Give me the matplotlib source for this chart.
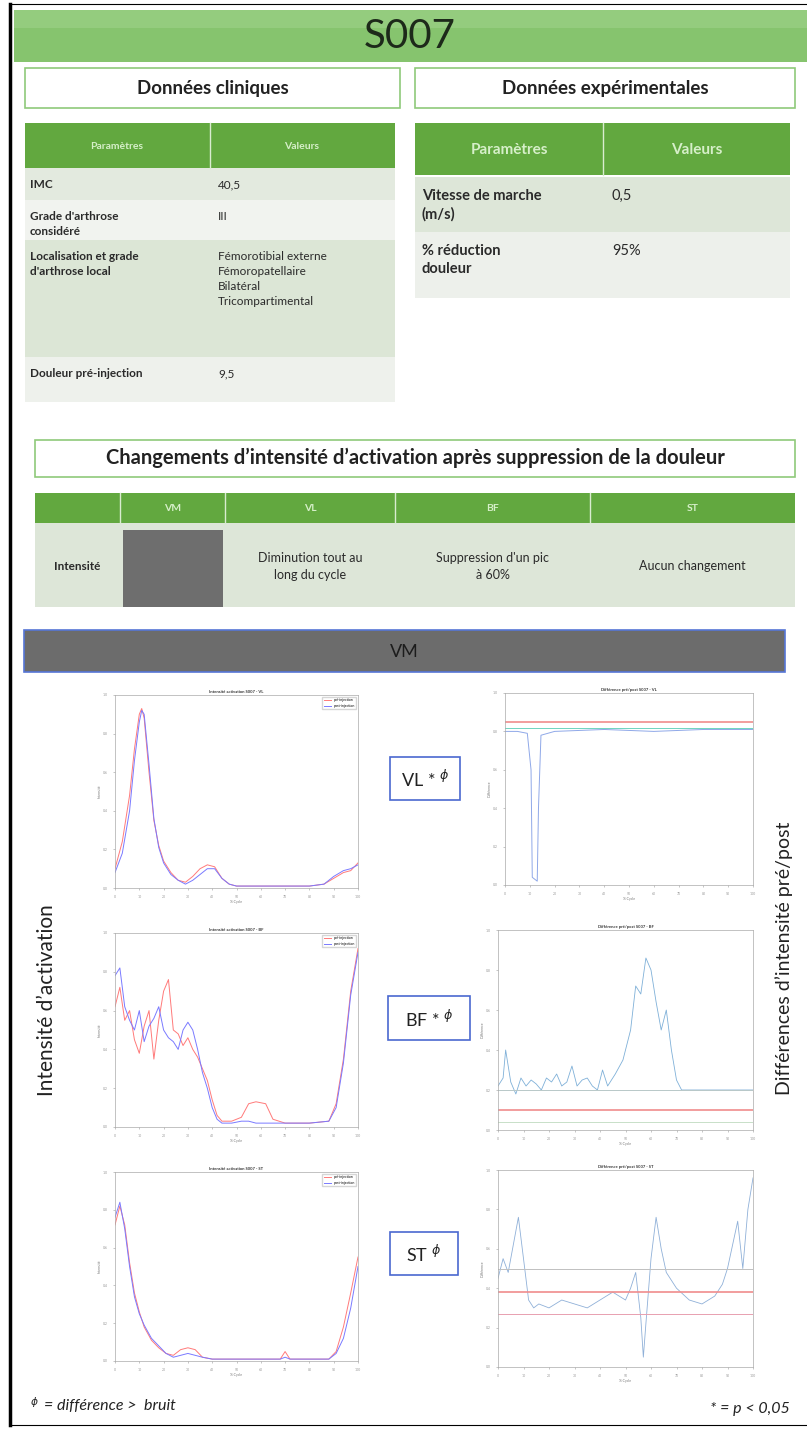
import matplotlib
matplotlib.use("Agg")
import matplotlib.pyplot as plt
from matplotlib.patches import Rectangle

plt.rcParams["font.family"] = ["Lato", "DejaVu Sans"]

W, H = 807, 1429

# ---- text content ----
title = "S007"
clin_params = ["IMC", "Grade d'arthrose\nconsidéré", "Localisation et grade\nd'arthrose local", "Douleur pré-injection"]
clin_values = ["40,5", "III", "Fémorotibial externe\nFémoropatellaire\nBilatéral\nTricompartimental", "9,5"]
exp_params = ["Vitesse de marche\n(m/s)", "% réduction\ndouleur"]
exp_values = ["0,5", "95%"]
muscles = ["VM", "VL", "BF", "ST"]
changes = ["", "Diminution tout au\nlong du cycle", "Suppression d'un pic\nà 60%", "Aucun changement"]
row_labels = ["VL * ", "BF * ", "ST "]

# ---- curves (x = % cycle) ----
vl_x = [0, 3, 6, 8, 10, 11, 12, 14, 16, 18, 20, 23, 26, 29, 32, 35, 38, 41, 44, 47, 50, 60, 70, 80, 86, 90, 94, 97, 100]
vl_pre = [0.10, 0.24, 0.48, 0.72, 0.90, 0.93, 0.88, 0.60, 0.35, 0.22, 0.14, 0.08, 0.04, 0.03, 0.06, 0.10, 0.12, 0.11, 0.05, 0.02, 0.01, 0.01, 0.01, 0.01, 0.02, 0.05, 0.08, 0.09, 0.13]
vl_post = [0.08, 0.18, 0.40, 0.66, 0.86, 0.92, 0.90, 0.64, 0.36, 0.21, 0.13, 0.07, 0.04, 0.02, 0.04, 0.07, 0.10, 0.10, 0.05, 0.02, 0.01, 0.01, 0.01, 0.01, 0.02, 0.06, 0.09, 0.10, 0.12]

bf_x = [0, 2, 4, 6, 8, 10, 12, 14, 16, 18, 20, 22, 24, 26, 28, 30, 32, 34, 36, 38, 40, 42, 44, 48, 52, 55, 58, 62, 65, 70, 80, 88, 91, 94, 97, 100]
bf_pre = [0.62, 0.72, 0.55, 0.60, 0.45, 0.38, 0.52, 0.60, 0.35, 0.55, 0.70, 0.76, 0.50, 0.48, 0.42, 0.46, 0.40, 0.36, 0.30, 0.24, 0.14, 0.06, 0.03, 0.03, 0.05, 0.12, 0.13, 0.12, 0.04, 0.02, 0.02, 0.03, 0.12, 0.35, 0.70, 0.92]
bf_post = [0.78, 0.82, 0.62, 0.55, 0.50, 0.60, 0.44, 0.52, 0.56, 0.62, 0.50, 0.46, 0.44, 0.40, 0.50, 0.54, 0.50, 0.40, 0.28, 0.20, 0.10, 0.04, 0.02, 0.02, 0.03, 0.03, 0.02, 0.02, 0.02, 0.02, 0.02, 0.03, 0.10, 0.33, 0.68, 0.90]

st_x = [0, 2, 4, 6, 8, 10, 12, 15, 18, 21, 24, 27, 30, 33, 36, 40, 50, 60, 68, 70, 72, 80, 88, 91, 94, 97, 100]
st_pre = [0.72, 0.82, 0.72, 0.52, 0.36, 0.26, 0.18, 0.11, 0.07, 0.04, 0.03, 0.06, 0.07, 0.06, 0.02, 0.01, 0.01, 0.01, 0.01, 0.05, 0.01, 0.01, 0.01, 0.05, 0.18, 0.36, 0.55]
st_post = [0.76, 0.84, 0.70, 0.50, 0.34, 0.25, 0.19, 0.12, 0.08, 0.04, 0.02, 0.03, 0.04, 0.03, 0.02, 0.01, 0.01, 0.01, 0.01, 0.02, 0.01, 0.01, 0.01, 0.04, 0.12, 0.28, 0.50]

dvl_x = [0, 5, 9, 10.5, 11, 12, 13, 13.5, 14.5, 20, 40, 60, 80, 100]
dvl_diff = [0.80, 0.80, 0.79, 0.60, 0.04, 0.03, 0.02, 0.40, 0.78, 0.80, 0.81, 0.80, 0.81, 0.81]
dvl_noise = 0.85
dvl_thresh = 0.82

dbf_x = [0, 2, 3, 5, 7, 9, 11, 13, 15, 17, 19, 21, 23, 25, 27, 29, 31, 33, 35, 37, 39, 41, 43, 46, 49, 52, 54, 56, 58, 60, 62, 64, 66, 68, 70, 72, 75, 80, 90, 100]
dbf_diff = [0.22, 0.26, 0.40, 0.24, 0.18, 0.26, 0.22, 0.25, 0.23, 0.20, 0.26, 0.24, 0.28, 0.22, 0.24, 0.32, 0.22, 0.25, 0.26, 0.22, 0.20, 0.30, 0.22, 0.28, 0.35, 0.50, 0.72, 0.68, 0.86, 0.80, 0.64, 0.50, 0.60, 0.40, 0.25, 0.20, 0.20, 0.20, 0.20, 0.20]
dbf_noise = 0.10
dbf_thresh = 0.20
dbf_low = 0.04

dst_x = [0, 2, 4, 6, 8, 10, 12, 14, 16, 20, 25, 30, 35, 40, 45, 50, 52, 54, 56, 57, 58, 60, 62, 64, 66, 70, 75, 80, 85, 88, 90, 92, 94, 96, 98, 100]
dst_diff = [0.45, 0.55, 0.48, 0.62, 0.76, 0.55, 0.34, 0.30, 0.32, 0.30, 0.34, 0.32, 0.30, 0.34, 0.38, 0.34, 0.40, 0.48, 0.25, 0.05, 0.22, 0.55, 0.76, 0.60, 0.48, 0.40, 0.34, 0.32, 0.36, 0.42, 0.50, 0.62, 0.74, 0.50, 0.80, 0.96]
dst_noise = 0.38
dst_upper = 0.50
dst_lower = 0.27

fig = plt.figure(figsize=(W / 100, H / 100), dpi=100)
bg = fig.add_axes([0, 0, 1, 1])
bg.set_xlim(0, W)
bg.set_ylim(H, 0)
bg.axis("off")


def box(x, y, w, h, fc, ec="none", lw=0):
    bg.add_patch(Rectangle((x, y), w, h, facecolor=fc, edgecolor=ec, linewidth=lw))


# outer frame
bg.plot([10, 10], [4, H - 4], color="black", lw=2.5)
bg.plot([10, W], [4, 4], color="black", lw=0.8)
bg.plot([10, W], [H - 4, H - 4], color="black", lw=0.8)

# title bar
box(14, 10, W - 14, 52, "#86c46e")
box(14, 10, W - 14, 18, "#94cc7e")
bg.text(410, 36, title, ha="center", va="center", fontsize=29, color="#1d2a1a")

# section boxes
for x0, x1, label in [(25, 400, "Données cliniques"), (415, 795, "Données expérimentales")]:
    box(x0, 68, x1 - x0, 40, "white", "#8fc97a", 1.2)
    bg.text((x0 + x1) / 2, 88, label, ha="center", va="center", fontsize=13.5, fontweight="bold", color="#222222")

# clinical table
hdr_g = "#62a83f"
box(25, 123, 370, 45, hdr_g)
bg.plot([210, 210], [123, 168], color="#d9ecd0", lw=1)
bg.text(117, 146, "Paramètres", ha="center", va="center", fontsize=7.5, fontweight="bold", color="#d6efc9")
bg.text(302, 146, "Valeurs", ha="center", va="center", fontsize=7.5, fontweight="bold", color="#d6efc9")
row_y = [168, 200, 240, 357, 402]
row_c = ["#e3eadf", "#f1f3ef", "#dce6d6", "#eef1ec"]
for i in range(len(clin_params)):
    y0, y1 = row_y[i], row_y[i + 1]
    box(25, y0, 370, y1 - y0, row_c[i])
    bg.text(30, y0 + 11, clin_params[i], ha="left", va="top", fontsize=8.5, fontweight="bold",
            color="#2a2a2a", linespacing=1.45)
    bg.text(218, y0 + 11, clin_values[i], ha="left", va="top", fontsize=8.5, color="#2a2a2a", linespacing=1.45)

# experimental table
box(415, 123, 375, 52, hdr_g)
bg.plot([603, 603], [123, 175], color="#d9ecd0", lw=1)
bg.text(509, 150, "Paramètres", ha="center", va="center", fontsize=11, fontweight="bold", color="#d6efc9")
bg.text(697, 150, "Valeurs", ha="center", va="center", fontsize=11, fontweight="bold", color="#d6efc9")
exp_y = [177, 232, 298]
exp_c = ["#dde6d8", "#edf0eb"]
for i in range(len(exp_params)):
    y0, y1 = exp_y[i], exp_y[i + 1]
    box(415, y0, 375, y1 - y0, exp_c[i])
    bg.text(422, y0 + 12, exp_params[i], ha="left", va="top", fontsize=10.5, fontweight="bold",
            color="#2a2a2a", linespacing=1.35)
    bg.text(612, y0 + 12, exp_values[i], ha="left", va="top", fontsize=10.5, color="#2a2a2a")

# change table
box(35, 440, 760, 37, "white", "#8fc97a", 1.2)
bg.text(415, 458, "Changements d’intensité d’activation après suppression de la douleur",
        ha="center", va="center", fontsize=14.5, fontweight="bold", color="#222222")
col_x = [35, 120, 225, 395, 590, 795]
box(35, 493, 760, 30, hdr_g)
box(35, 523, 760, 84, "#dde6d8")
for j in range(1, 5):
    bg.plot([col_x[j], col_x[j]], [493, 523], color="#d9ecd0", lw=1)
    bg.text((col_x[j] + col_x[j + 1]) / 2, 508, muscles[j - 1], ha="center", va="center",
            fontsize=7.5, fontweight="bold", color="#d6efc9")
    if changes[j - 1]:
        bg.text((col_x[j] + col_x[j + 1]) / 2, 566, changes[j - 1], ha="center", va="center",
                fontsize=9, color="#2a2a2a", linespacing=1.5)
box(123, 530, 100, 77, "#6e6e6e")
bg.text(77, 566, "Intensité", ha="center", va="center", fontsize=8.5, fontweight="bold", color="#2a2a2a")

# VM bar
box(24, 630, 761, 42, "#6c6c6c", "#5676d6", 1.2)
bg.text(404, 652, "VM", ha="center", va="center", fontsize=13, color="#1c1c1c")

# side labels
bg.text(47, 1000, "Intensité d’activation", rotation=90, ha="center", va="center", fontsize=15, color="#222222")
bg.text(784, 958, "Différences d’intensité pré/post", rotation=90, ha="center", va="center",
        fontsize=14, color="#222222")

# muscle label boxes
for (x0, y0, w, h), lab in zip([(390, 757, 70, 43), (388, 996, 82, 44), (390, 1232, 68, 43)], row_labels):
    box(x0, y0, w, h, "white", "#4a68d0", 1.2)
    bg.text(x0 + w / 2, y0 + h / 2 + 1, lab + r"$^{\phi}$", ha="center", va="center", fontsize=13, color="#222222")

# footnotes
bg.text(30, 1406, r"$^{\phi}$", ha="left", va="center", fontsize=11, color="#222222")
bg.text(44, 1406, "= différence >  bruit", ha="left", va="center", fontsize=11.5, style="italic", color="#222222")
bg.text(790, 1409, "* = p < 0,05", ha="right", va="center", fontsize=11.5, style="italic", color="#222222")


def small_axes(px0, py0, px1, py1):
    ax = fig.add_axes([px0 / W, 1 - py1 / H, (px1 - px0) / W, (py1 - py0) / H])
    ax.set_xlim(0, 100)
    ax.set_xticks(range(0, 101, 10))
    ax.tick_params(labelsize=2.5, length=1.5, width=0.4, colors="#999999")
    for s in ax.spines.values():
        s.set_color("#aaaaaa")
        s.set_linewidth(0.5)
    ax.set_xlabel("% Cycle", fontsize=2.5, labelpad=1, color="#777777")
    return ax


red, blue = "#ff7a7a", "#7a7aff"

left_data = [(vl_x, vl_pre, vl_post, "VL"), (bf_x, bf_pre, bf_post, "BF"), (st_x, st_pre, st_post, "ST")]
left_pos = [(115, 695, 358, 888), (115, 933, 358, 1127), (115, 1172, 358, 1361)]
for (xs, pre, post, m), pos in zip(left_data, left_pos):
    ax = small_axes(*pos)
    ax.plot(xs, pre, color=red, lw=0.7, label="pré-injection")
    ax.plot(xs, post, color=blue, lw=0.7, label="post-injection")
    ax.set_ylim(0, 1)
    ax.set_title("Intensité activation S007 - " + m, fontsize=3, pad=1.5, fontweight="bold", color="#333333")
    ax.set_ylabel("Intensité", fontsize=2.5, labelpad=1, color="#777777")
    ax.legend(loc="upper right", fontsize=2.5, frameon=True, handlelength=2)

right_pos = [(505, 693, 753, 885), (498, 930, 753, 1130), (498, 1170, 753, 1367)]
ax = small_axes(*right_pos[0])
ax.plot(dvl_x, dvl_diff, color="#8fa8e8", lw=0.7)
ax.axhline(dvl_noise, color="#f08c8c", lw=1.2)
ax.axhline(dvl_thresh, color="#6fd4c0", lw=0.7)
ax.set_ylim(0, 1)

ax = small_axes(*right_pos[1])
ax.plot(dbf_x, dbf_diff, color="#7fb0d8", lw=0.6)
ax.axhline(dbf_noise, color="#f08c8c", lw=1.2)
ax.axhline(dbf_thresh, color="#b8c8c8", lw=0.7)
ax.axhline(dbf_low, color="#c8e0c8", lw=0.7)
ax.set_ylim(0, 1)

ax = small_axes(*right_pos[2])
ax.plot(dst_x, dst_diff, color="#8fb0d8", lw=0.6)
ax.axhline(dst_noise, color="#f08c8c", lw=1.2)
ax.axhline(dst_upper, color="#c0c0c0", lw=0.7)
ax.axhline(dst_lower, color="#e8a0b0", lw=0.7)
ax.set_ylim(0, 1)

for ax, m in zip(fig.axes[4:], ["VL", "BF", "ST"]):
    ax.set_title("Différence pré/post S007 - " + m, fontsize=3, pad=1.5, fontweight="bold", color="#333333")
    ax.set_ylabel("Différence", fontsize=2.5, labelpad=1, color="#777777")

fig.savefig("out.png", dpi=100)
